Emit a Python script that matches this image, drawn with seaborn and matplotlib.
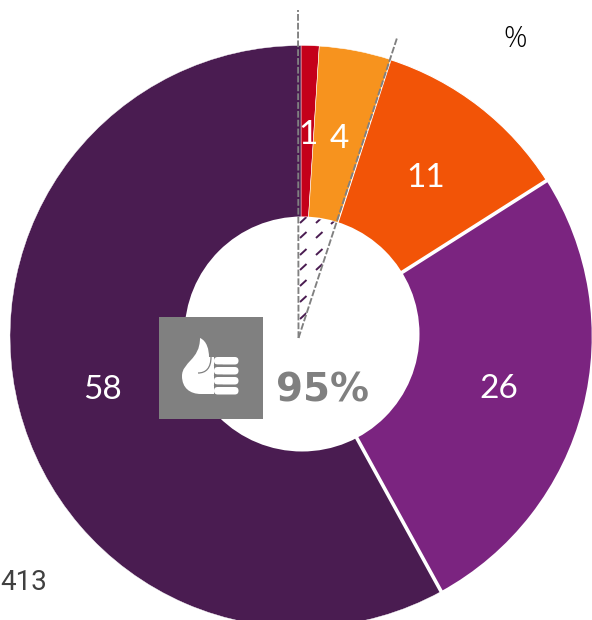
import numpy as np
import matplotlib
matplotlib.use("Agg")
import matplotlib.pyplot as plt
import seaborn as sns
from matplotlib.patches import PathPatch, Rectangle, FancyBboxPatch, Polygon, Circle
from matplotlib.path import Path
from matplotlib.collections import LineCollection

values = [1, 4, 11, 26, 58]
labels = ["1", "4", "11", "26", "58"]
colors = ["#C4001A", "#F7931E", "#F25407", "#7B2480", "#4A1C51"]
summary_label = "95%"
unit_label = "%"
count_label = "413"

W, H = 592, 620
sns.set_theme(style="white")
plt.rcParams["font.family"] = ["Lato", "DejaVu Sans"]
fig = plt.figure(figsize=(W / 100, H / 100), dpi=100)
ax = fig.add_axes([0, 0, 1, 1])

def Y(py):
    return H - py

CX, CY, R, HOLE = 301, Y(336.5), 291, 100
wedges, _ = ax.pie(values, colors=sns.color_palette(colors), startangle=90, counterclock=False,
                   center=(CX, CY), radius=R, explode=[0.01, 0, 0, 0, 0],
                   wedgeprops=dict(width=R - HOLE, edgecolor="white"))
for w, lw in zip(wedges, [0.3, 0.4, 0.8, 2.6, 0.3]):
    w.set_linewidth(lw)
# the purple wedge keeps its thick white border visible on both sides
wedges[3].set_zorder(3)
wedges[3].set_radius(R + 1.5)
wedges[3].set_width(R + 1.5 - HOLE)
# doughnut hole sits slightly off the ring's centre
ax.add_patch(Circle((302, Y(334)), 117.5, fc="white", ec="none", zorder=3.5))
ax.set_xlim(0, W)
ax.set_ylim(0, H)
ax.set_aspect("auto")
ax.axis("off")

# hatched sliver in the hole, spanning the first two categories
apex = np.array([298.5, Y(338)])
sliver_angle = np.deg2rad(360 * sum(values[:2]) / sum(values))
far = 122
clip = Polygon([apex, apex + [0, far], apex + far * np.array([np.sin(sliver_angle), np.cos(sliver_angle)])],
               closed=True, transform=ax.transData, fc="none", ec="none")
ax.add_patch(clip)
segs = []
for x0, rows in [(300, [220, 235, 252, 267, 283, 299, 316]),
                 (316, [220, 235, 252, 267, 285, 299]),
                 (331, [221, 237, 252])]:
    for r in rows:
        segs.append([(x0, Y(r + 3)), (x0 + 6.5, Y(r - 3))])
lc = LineCollection(segs, colors="#4A1C51", linewidths=1.4, zorder=4)
ax.add_collection(lc)
lc.set_clip_path(clip)

for (x1, y1) in [(298, 10), (397, 38)]:
    ax.plot([298.5, x1], [Y(338), Y(y1)], color="#808080", lw=1.35, ls=(0, (3.6, 1.1)), zorder=5)

# thumbs-up icon
ax.add_patch(Rectangle((159, Y(419)), 104, 102, fc="#808080", ec="none", zorder=6))
thumb = Path([(200, Y(338)), (207, Y(341)), (209, Y(350)), (209, Y(357)),
              (214, Y(357)), (214, Y(394)), (201, Y(394)),
              (190, Y(394)), (182, Y(388)), (182, Y(376)),
              (182, Y(362)), (200, Y(360)), (200, Y(338)), (200, Y(338))],
             [Path.MOVETO, Path.CURVE4, Path.CURVE4, Path.CURVE4,
              Path.LINETO, Path.LINETO, Path.LINETO,
              Path.CURVE4, Path.CURVE4, Path.CURVE4,
              Path.CURVE4, Path.CURVE4, Path.CURVE4, Path.CLOSEPOLY])
ax.add_patch(PathPatch(thumb, fc="white", ec="none", zorder=7))
for top in [357, 367, 377, 387]:
    ax.add_patch(FancyBboxPatch((214, Y(top + 7.5)), 24.5, 7.5, boxstyle="round,pad=0,rounding_size=3.7",
                                fc="white", ec="none", zorder=8))
crease = Path([(198, Y(373)), (206, Y(373)), (211, Y(368)), (211, Y(357))],
              [Path.MOVETO, Path.CURVE4, Path.CURVE4, Path.CURVE4])
ax.add_patch(PathPatch(crease, fc="none", ec="#808080", lw=0.9, zorder=8))
for top in [365.2, 375.2, 385.2]:
    ax.plot([214, 222], [Y(top)] * 2, color="#808080", lw=1.0, zorder=8)

# texts
for txt, (x, y) in zip(labels, [(308, 135), (339, 139), (426, 178), (499, 389), (103, 390)]):
    ax.text(x, Y(y), txt, color="white", fontsize=24, ha="center", va="center", zorder=9)
ax.text(322, Y(391), summary_label, color="#808080", fontsize=28, fontweight="bold",
        family=["DejaVu Sans"], ha="center", va="center", zorder=9)
ax.text(515, Y(39), unit_label, color="black", fontsize=21, family=["Open Sans"], fontweight="light",
        ha="center", va="center")
ax.text(47, Y(582), count_label, color="#404040", fontsize=20, family=["Roboto"], ha="right", va="center")

fig.savefig("out.png", dpi=100)
